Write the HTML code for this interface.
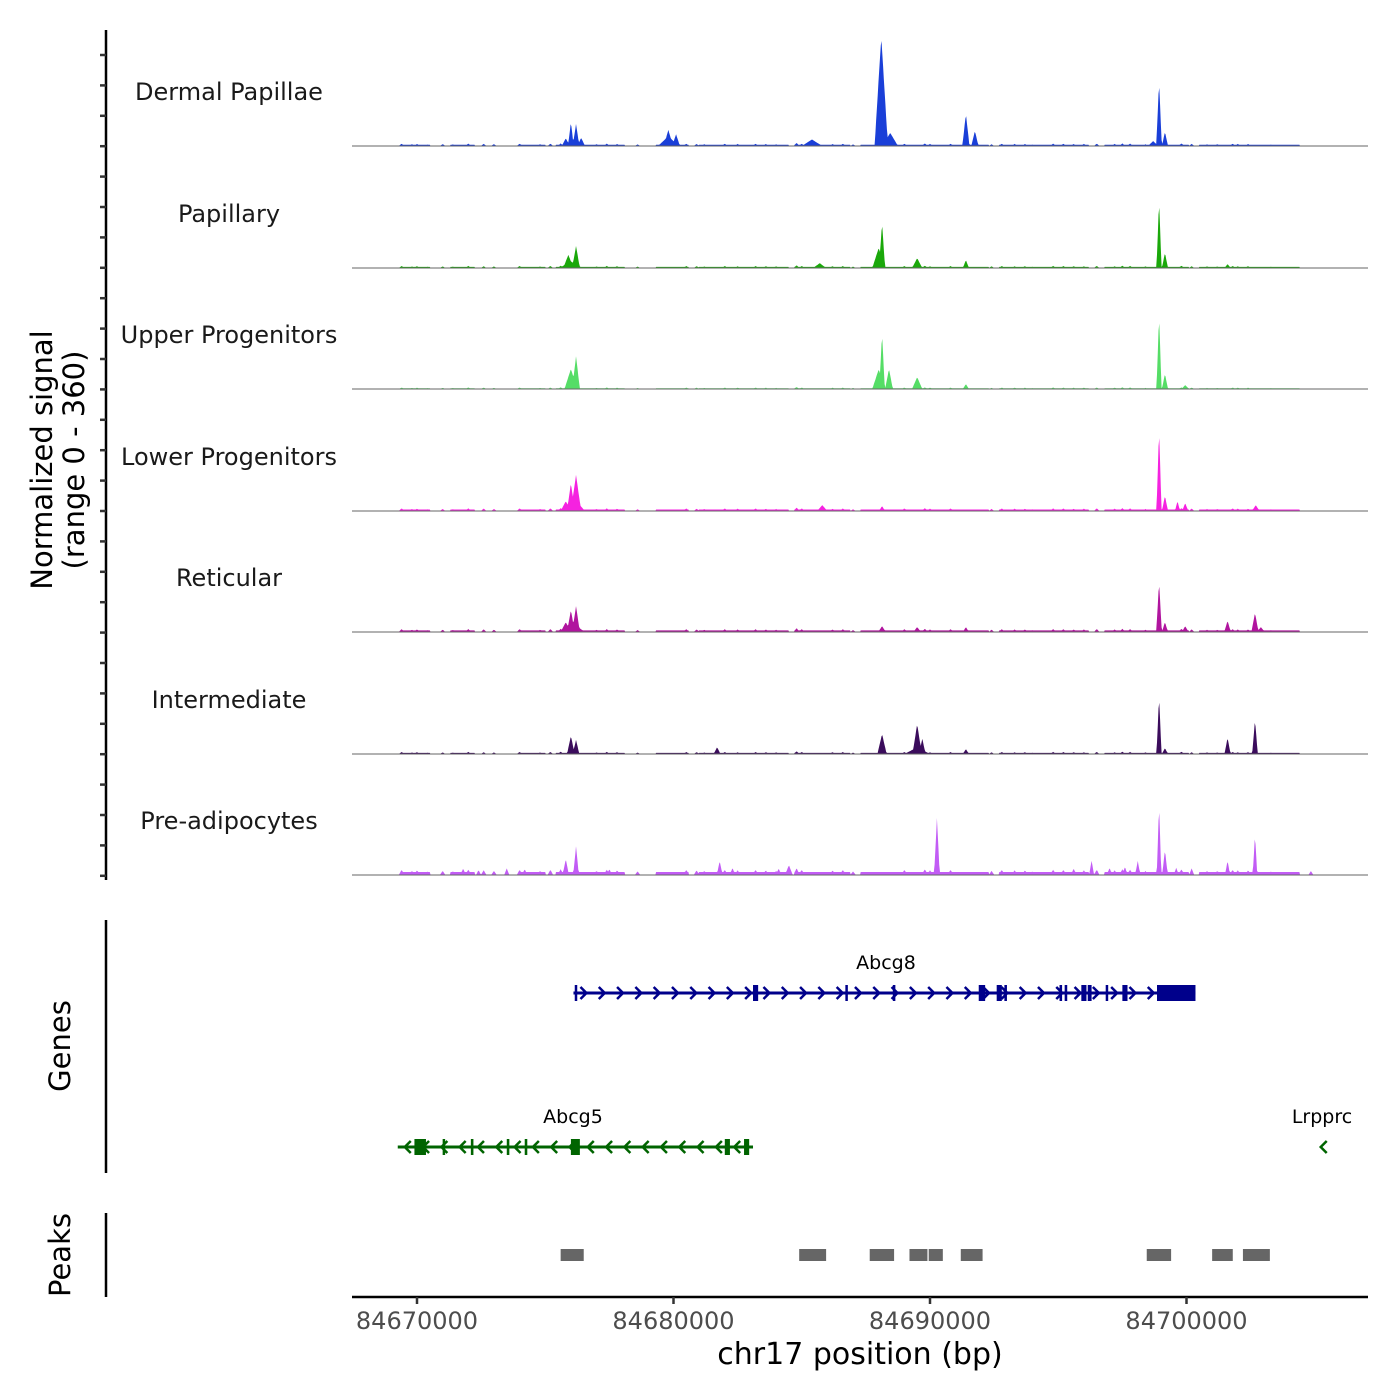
<!DOCTYPE html>
<html><head><meta charset="utf-8"><style>
html,body{margin:0;padding:0;background:#fff}
svg{display:block;font-family:"DejaVu Sans","Liberation Sans",sans-serif}
</style></head><body>
<svg id="c" width="1400" height="1400" viewBox="0 0 1400 1400"></svg>
<script>
const trackNames=["Dermal Papillae","Papillary","Upper Progenitors","Lower Progenitors","Reticular","Intermediate","Pre-adipocytes"];
const trackColors=["#1a3fd8","#1aa80a","#55dd66","#f522e0","#b0149e","#3b0c5c","#c25cf5"];
// peaks: [offset kb from 84670000, value (0-360), half-width bp]
const peaksDermal=[[6.1,18,500],[5.8,24,150],[6.0,73,110],[6.2,67,130],[6.4,25,150],[9.8,30,400],[9.8,49,180],[10.1,36,150],[15.4,20,400],[18.1,333,260],[18.45,40,300],[21.4,98,140],[21.75,46,140],[28.93,195,110],[29.16,43,120],[28.7,15,200]];
const peaksPapillary=[[6.0,20,450],[5.9,40,200],[6.2,67,150],[18.0,61,250],[18.13,137,120],[19.5,30,200],[21.4,24,120],[28.93,204,100],[29.16,46,120],[15.7,15,250],[31.6,12,120]];
const peaksUpper=[[6.0,61,250],[6.2,100,150],[18.0,60,250],[18.13,168,110],[18.4,61,150],[19.5,36,200],[21.4,15,120],[28.93,222,100],[29.16,46,120],[29.95,12,150]];
const peaksLower=[[6.1,40,450],[5.8,30,200],[6.0,85,150],[6.2,110,200],[15.8,18,200],[18.13,15,120],[28.93,247,100],[29.16,46,120],[29.65,30,100],[29.95,24,120],[32.7,18,150]];
const peaksReticular=[[6.1,25,450],[5.8,30,200],[6.0,67,150],[6.2,79,150],[18.13,18,150],[19.5,15,150],[21.4,15,120],[28.93,152,110],[29.16,30,120],[29.95,18,130],[31.6,34,130],[32.67,58,140],[32.9,15,150]];
const peaksIntermediate=[[6.0,55,150],[6.2,43,130],[11.7,21,130],[18.13,61,180],[19.5,91,180],[19.7,46,130],[19.5,20,500],[21.4,15,120],[28.93,174,100],[29.16,18,120],[31.6,49,120],[32.67,104,110]];
const peaksPreadipo=[[5.8,49,120],[6.2,88,110],[11.8,43,110],[14.5,30,150],[20.27,174,110],[26.3,43,100],[28.1,43,100],[28.93,213,90],[29.16,76,110],[31.6,43,100],[32.67,122,90],[34.85,12,100],[7.5,18,100],[2.4,15,100],[4.2,18,100],[1.8,20,100],[3.5,20,100],[12.3,22,100],[14.1,20,100],[25.6,20,100],[27.0,22,100],[27.6,25,100],[29.6,22,100],[30.2,20,100]];
// background bumps: [offset kb, value]
const background=[[-0.6,9],[-0.2,7],[0.4,6],[1.4,6],[2.0,9],[3.0,7],[4.0,9],[4.8,7],[5.2,9],[7.0,7],[7.8,8],[8.6,6],[10.5,9],[11.2,7],[12.5,8],[13.2,9],[14.0,7],[15.0,9],[16.2,8],[17.0,6],[19.0,9],[20.0,8],[20.8,9],[22.4,7],[23.3,8],[24.0,6],[24.8,9],[25.6,8],[26.5,9],[27.2,8],[27.8,9],[28.4,7],[30.2,8],[30.8,7],[31.2,7],[32.0,8],[33.3,6],[34.0,5],[0.0,8],[1.0,7],[2.6,8],[5.6,10],[7.4,9],[10.9,8],[12.0,9],[13.6,8],[14.8,12],[16.6,9],[19.8,10],[22.8,9],[23.7,8],[25.2,9],[26.0,8],[27.5,10],[29.8,10],[31.8,9],[32.4,8]];
// background coverage segments: [start kb, end kb]
const bgSegments=[[-0.66,0.5],[1.3,2.26],[4.0,5.0],[5.4,8.1],[9.3,10.6],[11.0,14.5],[14.7,16.9],[17.3,22.3],[22.7,26.2],[26.8,30.1],[30.5,34.4]];
const bgLevel=5;
const bgScale=[0.8,0.7,0.5,0.9,1.0,0.7,1.8];
const allPeaks=[peaksDermal,peaksPapillary,peaksUpper,peaksLower,peaksReticular,peaksIntermediate,peaksPreadipo];
const xTicks=[84670000,84680000,84690000,84700000];
const xTickLabels=["84670000","84680000","84690000","84700000"];
// genes: exons [start kb, end kb]
const abcg8Exons=[[6.15,6.23],[13.1,13.3],[16.7,16.78],[18.55,18.65],[21.9,22.15],[22.6,22.8],[22.9,23.0],[25.05,25.15],[25.25,25.35],[25.9,26.1],[26.15,26.3],[26.85,26.92],[27.5,27.7],[28.85,30.35]];
const abcg5Exons=[[-0.1,0.35],[1.0,1.08],[2.1,2.2],[3.5,3.6],[4.2,4.3],[6.0,6.35],[12.0,12.2],[12.75,12.95]];
const peakRegions=[[5.6,6.5],[14.9,15.95],[17.65,18.6],[19.2,19.9],[19.95,20.5],[21.2,22.05],[28.45,29.4],[31.0,31.8],[31.4,31.8],[32.2,33.25]];

const svg=document.getElementById('c');
const NS="http://www.w3.org/2000/svg";
const X0=352,X1=1368,D0=84667466,D1=84707076;
function xs(bp){return X0+(bp-D0)/(D1-D0)*(X1-X0);}
function xo(kb){return xs(84670000+kb*1000);}
const bases=[146,268,389,511,632,754,875];
const TH=118;
function ys(v,i){return bases[i]-v/360*TH;}
function el(t,a,txt){const e=document.createElementNS(NS,t);for(const k in a)e.setAttribute(k,a[k]);if(txt!==undefined)e.textContent=txt;svg.appendChild(e);return e;}

// signal tracks
for(let i=0;i<7;i++){
  const pk=allPeaks[i].concat(background.map(b=>[b[0],b[1]*bgScale[i],110]));
  const step=30;let pts=[];
  const s0=-0.7*1000,s1=35.2*1000;
  for(let p=s0;p<=s1;p+=step){
    let v=0;
    for(const sg of bgSegments){if(p>=sg[0]*1000&&p<=sg[1]*1000){v=bgLevel*bgScale[i];break;}}
    for(const q of pk){const d=Math.abs(p-q[0]*1000);if(d<q[2]){const h=q[1]*(1-d/q[2]);if(h>v)v=h;}}
    pts.push([xo(p/1000),ys(v,i)]);
  }
  let d="M"+xo(s0/1000)+","+bases[i]+" "+pts.map(p=>"L"+p[0].toFixed(1)+","+p[1].toFixed(1)).join(" ")+" L"+xo(s1/1000)+","+bases[i]+"Z";
  const a=el('path',{d:d,fill:trackColors[i]});
  
  
  const bl=el('line',{x1:X0,x2:X1,y1:bases[i],y2:bases[i],stroke:'#666','stroke-width':1});
  
  
  const t=el('text',{x:229,y:bases[i]-54+8,'text-anchor':'middle','font-size':24,fill:'#1a1a1a'},trackNames[i]);
  
  
}
// left axes
let ax=el('line',{x1:106,x2:106,y1:30,y2:880,stroke:'#000','stroke-width':2.5});

for(let k=1;k<=28;k++){const y=24.6+k*30.4;const tk=el('line',{x1:100,x2:106,y1:y,y2:y,stroke:'#333','stroke-width':2.5});}
let yt=el('text',{transform:'translate(52,460) rotate(-90)','text-anchor':'middle','font-size':29,fill:'#000'});

yt.innerHTML='<tspan x="0" dy="0">Normalized signal</tspan><tspan x="0" dy="32">(range 0 - 360)</tspan>';
ax=el('line',{x1:106,x2:106,y1:920,y2:1173,stroke:'#000','stroke-width':2.5});
ax=el('line',{x1:106,x2:106,y1:1213,y2:1297,stroke:'#000','stroke-width':2.5});
let g=el('text',{transform:'translate(70,1046) rotate(-90)','text-anchor':'middle','font-size':29},'Genes');
g=el('text',{transform:'translate(70,1255) rotate(-90)','text-anchor':'middle','font-size':29},'Peaks');

// genes
function drawGene(name,s,e,y,col,exons,dir,lx,ly){
  let l=el('line',{x1:xo(s),x2:xo(e),y1:y,y2:y,stroke:col,'stroke-width':3});
  
  for(let x=xo(s)+10;x<xo(e)-6;x+=18.3){
    const p=dir>0?`M${x-3},${y-6} L${x+3},${y} L${x-3},${y+6}`:`M${x+3},${y-6} L${x-3},${y} L${x+3},${y+6}`;
    const c=el('path',{d:p,fill:'none',stroke:col,'stroke-width':2.5});
  }
  for(const ex of exons){const r=el('rect',{x:xo(ex[0]),y:y-8,width:Math.max(2.5,xo(ex[1])-xo(ex[0])),height:16,fill:col});}
  const t=el('text',{x:lx,y:ly,'text-anchor':'middle','font-size':19,fill:'#000'},name);
}
drawGene('Abcg8',6.1,30.35,993,'#00008b',abcg8Exons,1,886,969);
drawGene('Abcg5',-0.75,13.1,1147,'#006400',abcg5Exons,-1,573,1123);
let lr=el('path',{d:`M${xo(35.35)+3},1141 L${xo(35.35)-3},1147 L${xo(35.35)+3},1153`,fill:'none',stroke:'#006400','stroke-width':2.5});

lr=el('text',{x:1322,y:1123,'text-anchor':'middle','font-size':19},'Lrpprc');

// peaks
for(const pr of peakRegions){const r=el('rect',{x:xo(pr[0]),y:1249,width:xo(pr[1])-xo(pr[0]),height:12,fill:'#666'});}

// x axis
ax=el('line',{x1:X0,x2:X1,y1:1297,y2:1297,stroke:'#000','stroke-width':2.5});
xTicks.forEach((t,i)=>{
  const tk=el('line',{x1:xs(t),x2:xs(t),y1:1297,y2:1304,stroke:'#333','stroke-width':2.5});
  const lb=el('text',{x:xs(t),y:1329,'text-anchor':'middle','font-size':24,fill:'#4d4d4d'},xTickLabels[i]);
});
let xt=el('text',{x:860,y:1364,'text-anchor':'middle','font-size':30,fill:'#000'},'chr17 position (bp)');

</script>
</body></html>
